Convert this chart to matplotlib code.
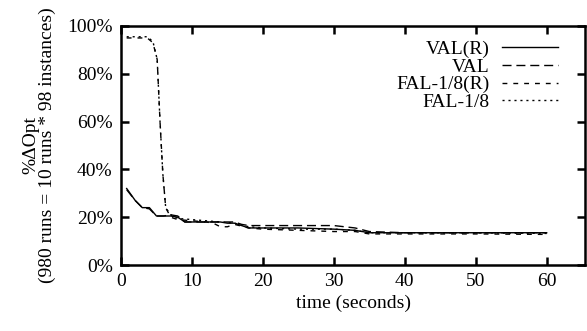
import matplotlib
matplotlib.use("Agg")
import matplotlib.pyplot as plt
from matplotlib.ticker import FuncFormatter

plt.rcParams['font.family'] = ['Liberation Serif', 'DejaVu Serif']

# time points (seconds) and %ΔOpt values
t_val_r = [0.8, 2, 3, 4, 5, 6, 7, 8, 9, 10, 12, 14, 15, 16, 17, 18, 20, 25, 30, 33, 35, 40, 50, 60]
val_r = [32, 27, 24, 24, 20.5, 20.5, 20.5, 20, 18, 18, 18, 18, 17.5, 17.5, 16.5, 15.5, 15.5, 15.5, 15, 14.5, 13.5, 13.5, 13.5, 13.5]

t_val = [0.8, 2, 3, 4, 5, 6, 7, 8, 9, 10, 12, 14, 15, 16, 17, 18, 20, 25, 30, 33, 35, 40, 50, 60]
val = [31.5, 27, 24, 23.5, 20.5, 20.5, 21, 20.5, 18, 18, 18, 18, 18, 18, 17, 16.5, 16.5, 16.5, 16.5, 15.5, 14, 13.5, 13.5, 13.5]

t_fal_r = [0.8, 2, 3.7, 4.5, 5.1, 5.5, 5.9, 6.3, 7, 8, 10, 12, 13, 14, 15, 16, 18, 20, 25, 30, 33, 35, 40, 50, 60]
fal_r = [95, 95, 95, 93, 86, 60, 38, 24, 20, 19, 18.5, 18, 17.5, 16, 16, 17, 15.5, 15, 14.5, 14, 14, 13, 13, 13, 12.8]

t_fal = [0.8, 2, 3.7, 4.5, 5.1, 5.5, 5.9, 6.3, 7, 8, 10, 12, 14, 16, 18, 20, 25, 30, 33, 35, 40, 50, 60]
fal = [95.5, 95.5, 95.5, 93.5, 86, 60, 38, 24, 21, 19.5, 19, 18.5, 18, 17.5, 16, 15.5, 15, 15, 14.5, 13.5, 13.5, 13.5, 13.2]

fig = plt.figure(figsize=(5.87, 3.31), dpi=100)
ax = fig.add_axes([121 / 587, 66 / 331, 464 / 587, 239 / 331])

ax.plot(t_val_r, val_r, color='black', lw=1.0, ls='-', label='VAL(R)')
ax.plot(t_val, val, color='black', lw=1.0, ls=(0, (6.5, 3.5)), label='VAL')
ax.plot(t_fal_r, fal_r, color='black', lw=1.0, ls=(0, (3.5, 4.3)), label='FAL-1/8(R)')
ax.plot(t_fal, fal, color='black', lw=1.0, ls=(0, (1.5, 2.8)), label='FAL-1/8')

ax.set_xlim(0, 65.4)
ax.set_ylim(0, 100)
ax.set_xticks([0, 10, 20, 30, 40, 50, 60])
ax.set_yticks([0, 20, 40, 60, 80, 100])
ax.yaxis.set_major_formatter(FuncFormatter(lambda v, p: '%d%%' % v))

for s in ax.spines.values():
    s.set_linewidth(1.8)
ax.tick_params(direction='in', length=6, width=1.8, top=True, right=True,
               labelsize=14, pad=6)

ax.set_xlabel('time (seconds)', fontsize=14, labelpad=3)
ax.set_ylabel('%ΔOpt\n(980 runs = 10 runs * 98 instances)', fontsize=14,
              linespacing=0.95, labelpad=8)

leg = ax.legend(loc='upper right', bbox_to_anchor=(0.967, 0.988), frameon=False,
                markerfirst=False, fontsize=14, handlelength=2.9,
                handletextpad=0.6, labelspacing=0.0, borderpad=0.1)
for txt in leg.get_texts():
    txt.set_ha('right')
leg._legend_box.align = 'right'

fig.savefig('out.png', dpi=100)
